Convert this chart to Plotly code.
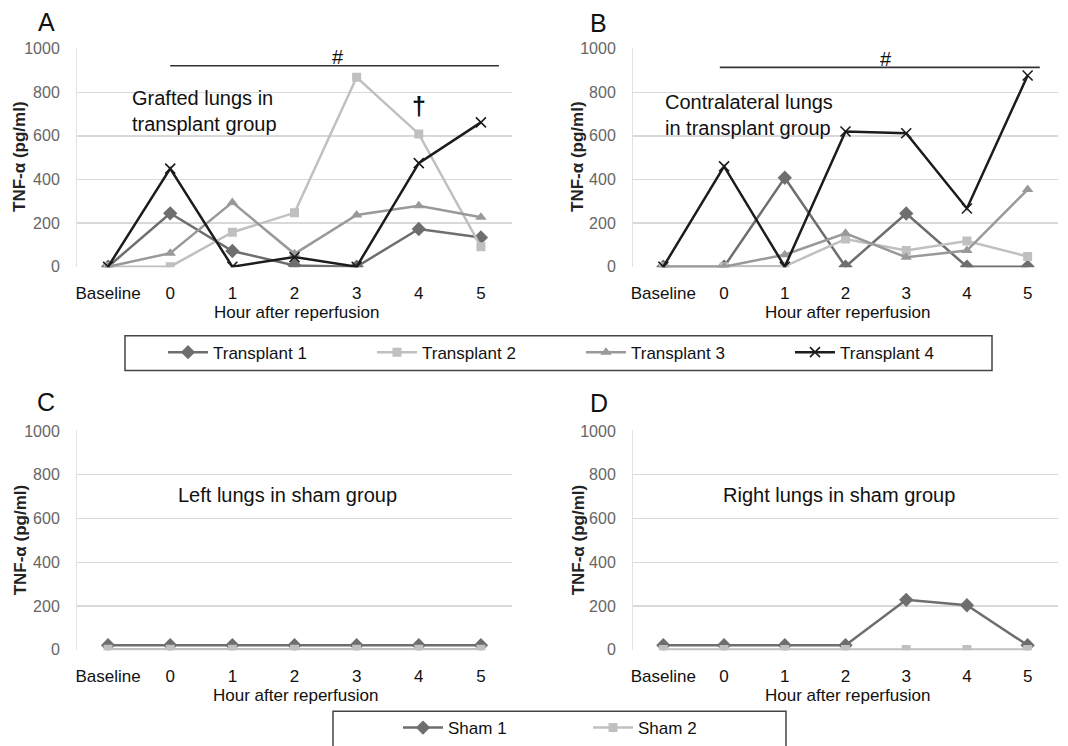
import plotly.graph_objects as go

# ---------------- data ----------------
categories = ["Baseline", "0", "1", "2", "3", "4", "5"]
y_ticks = [0, 200, 400, 600, 800, 1000]

# Panel A: grafted lungs in transplant group
a_transplant1 = [0, 245, 72, 6, 0, 173, 134]
a_transplant2 = [0, 0, 158, 247, 869, 609, 91]
a_transplant3 = [0, 62, 295, 59, 237, 280, 227]
a_transplant4 = [0, 450, 0, 44, 0, 475, 662]

# Panel B: contralateral lungs in transplant group
b_transplant1 = [0, 0, 408, 0, 244, 0, 0]
b_transplant2 = [0, 0, 2, 127, 74, 118, 47]
b_transplant3 = [0, 0, 55, 153, 43, 74, 354]
b_transplant4 = [0, 460, 0, 620, 612, 267, 877]

# Panel C: left lungs in sham group
c_sham1 = [20, 20, 20, 20, 20, 20, 20]
c_sham2 = [2, 2, 2, 2, 2, 2, 2]

# Panel D: right lungs in sham group
d_sham1 = [20, 20, 20, 20, 228, 203, 20]
d_sham2 = [0, 0, 0, 0, 0, 0, 0]

transplant_names = ["Transplant 1", "Transplant 2", "Transplant 3", "Transplant 4"]
sham_names = ["Sham 1", "Sham 2"]

# ---------------- layout helpers ----------------
W, H = 1068, 746
FONT = "Liberation Sans, Arial, sans-serif"


def px_x(a, b):
    return [a / W, b / W]


def px_y(top, bottom):
    return [1 - bottom / H, 1 - top / H]


YR = [-3, 1003]


def ydom(top1000, bottom0):
    per = (bottom0 - top1000) / 1000.0
    return px_y(top1000 - (YR[1] - 1000) * per, bottom0 - YR[0] * per)


styles = {
    "Transplant 1": dict(color="#6e6e6e", symbol="diamond", size=11),
    "Transplant 2": dict(color="#c0c0c0", symbol="square", size=9),
    "Transplant 3": dict(color="#999999", symbol="triangle-up", size=10),
    "Transplant 4": dict(color="#1c1c1c", symbol="x-thin", size=10),
    "Sham 1": dict(color="#6e6e6e", symbol="diamond", size=11),
    "Sham 2": dict(color="#c0c0c0", symbol="square", size=9),
}

fig = go.Figure()


def add(name, values, xa, ya, showlegend, legend):
    st = styles[name]
    marker = dict(symbol=st["symbol"], size=st["size"], color=st["color"])
    if st["symbol"].startswith("x"):
        marker["line"] = dict(color=st["color"], width=1.6)
    fig.add_trace(go.Scatter(
        x=categories, y=values, name=name, mode="lines+markers",
        line=dict(color=st["color"], width=2.5), marker=marker,
        xaxis=xa, yaxis=ya, showlegend=showlegend, legend=legend,
    ))


for n, v in zip(transplant_names, [a_transplant1, a_transplant2, a_transplant3, a_transplant4]):
    add(n, v, "x", "y", True, "legend")
for n, v in zip(transplant_names, [b_transplant1, b_transplant2, b_transplant3, b_transplant4]):
    add(n, v, "x2", "y2", False, "legend")
for n, v in zip(sham_names, [c_sham1, c_sham2]):
    add(n, v, "x3", "y3", True, "legend2")
for n, v in zip(sham_names, [d_sham1, d_sham2]):
    add(n, v, "x4", "y4", False, "legend2")

GRID = "#d9d9d9"

xaxis_common = dict(
    type="category", categoryorder="array", categoryarray=categories,
    range=[-0.5, 6.5], showgrid=False, zeroline=False, showline=False,
    ticks="", ticklabelstandoff=14,
    tickfont=dict(family=FONT, size=17, color="#111111"),
    automargin=False, fixedrange=True,
)
yaxis_common = dict(
    range=YR, tickvals=y_ticks, showgrid=True, gridcolor=GRID, gridwidth=1.3,
    zeroline=False, showline=True, linecolor="#e2e2e2", linewidth=1,
    ticks="", ticklabelstandoff=13,
    tickfont=dict(family=FONT, size=16, color="#666666"),
    automargin=False, fixedrange=True,
)

left_x = px_x(77, 512)
right_x = px_x(633, 1058)
top_y = ydom(49, 268.5)
bot_y = ydom(434, 654)

fig.update_layout(
    xaxis=dict(xaxis_common, domain=left_x, anchor="y"),
    yaxis=dict(yaxis_common, domain=top_y, anchor="x"),
    xaxis2=dict(xaxis_common, domain=right_x, anchor="y2"),
    yaxis2=dict(yaxis_common, domain=top_y, anchor="x2"),
    xaxis3=dict(xaxis_common, domain=left_x, anchor="y3"),
    yaxis3=dict(yaxis_common, domain=bot_y, anchor="x3"),
    xaxis4=dict(xaxis_common, domain=right_x, anchor="y4"),
    yaxis4=dict(yaxis_common, domain=bot_y, anchor="x4"),
)

annotations = []
# panel letters
for letter, (px, py) in zip("ABCD", [(46, 22), (598, 23), (46, 405), (599, 406)]):
    annotations.append(dict(text=letter, x=px / W, y=1 - py / H, xref="paper", yref="paper",
                            showarrow=False, xanchor="center", yanchor="middle",
                            font=dict(family=FONT, size=25, color="#111111")))
# y titles
for px, py in [(20, 158), (578, 158), (20, 544), (578, 544)]:
    annotations.append(dict(text="<b>TNF-α (pg/ml)</b>", x=px / W, y=1 - py / H, xref="paper",
                            yref="paper", showarrow=False, textangle=-90,
                            xanchor="center", yanchor="middle",
                            font=dict(family=FONT, size=17, color="#222222")))
# x titles
for px, py in [(296, 315), (847, 315), (295, 700), (847, 700)]:
    annotations.append(dict(text="Hour after reperfusion", x=px / W, y=1 - py / H, xref="paper",
                            yref="paper", showarrow=False, xanchor="center", yanchor="middle",
                            font=dict(family=FONT, size=17, color="#111111")))

# panel texts
annotations += [
    dict(text="Grafted lungs in<br>transplant group", x=0.35, y=712, xref="x", yref="y",
         showarrow=False, xanchor="left", yanchor="middle", align="left",
         font=dict(family=FONT, size=20, color="#111111")),
    dict(text="Contralateral lungs<br>in transplant group", x=0.0, y=698, xref="x2", yref="y2",
         showarrow=False, xanchor="left", yanchor="middle", align="left",
         font=dict(family=FONT, size=20, color="#111111")),
    dict(text="Left lungs in sham group", x=2.88, y=709, xref="x3", yref="y3",
         showarrow=False, xanchor="center", yanchor="middle",
         font=dict(family=FONT, size=20, color="#111111")),
    dict(text="Right lungs in sham group", x=2.89, y=709, xref="x4", yref="y4",
         showarrow=False, xanchor="center", yanchor="middle",
         font=dict(family=FONT, size=20, color="#111111")),
    dict(text="#", x=3.7, y=962, xref="x", yref="y", showarrow=False,
         font=dict(family=FONT, size=20, color="#111111")),
    dict(text="#", x=3.67, y=954, xref="x2", yref="y2", showarrow=False,
         font=dict(family=FONT, size=20, color="#111111")),
    dict(text="<b>†</b>", x=5, y=735, xref="x", yref="y", showarrow=False,
         font=dict(family=FONT, size=25, color="#111111")),
]

shapes = [
    dict(type="line", xref="x", yref="y", x0=1, x1=6.29, y0=922, y1=922,
         line=dict(color="#333333", width=1.6)),
    dict(type="line", xref="x2", yref="y2", x0=0.93, x1=6.2, y0=914, y1=914,
         line=dict(color="#333333", width=1.6)),
    # legend boxes
    dict(type="rect", xref="paper", yref="paper", x0=125 / W, x1=992 / W,
         y0=1 - 373 / H, y1=1 - 338 / H, line=dict(color="#444444", width=1.5)),
    dict(type="rect", xref="paper", yref="paper", x0=333 / W, x1=786 / W,
         y0=1 - 760 / H, y1=1 - 716 / H, line=dict(color="#444444", width=1.5)),
]

fig.update_layout(
    width=W, height=H, autosize=False,
    margin=dict(l=0, r=0, t=0, b=0),
    paper_bgcolor="white", plot_bgcolor="white",
    annotations=annotations, shapes=shapes,
    legend=dict(orientation="h", x=163 / W, xanchor="left", y=1 - 355 / H, yanchor="middle",
                bgcolor="rgba(0,0,0,0)", borderwidth=0, itemwidth=40,
                entrywidth=154, entrywidthmode="pixels",
                font=dict(family=FONT, size=17, color="#111111")),
    legend2=dict(orientation="h", x=398 / W, xanchor="left", y=1 - 733 / H, yanchor="middle",
                 bgcolor="rgba(0,0,0,0)", borderwidth=0, itemwidth=40,
                 entrywidth=135, entrywidthmode="pixels",
                 font=dict(family=FONT, size=17, color="#111111")),
    hovermode=False,
)

fig.write_html(
    "out.html",
    config={"displayModeBar": False, "staticPlot": True},
    post_script="document.body.style.margin='0';document.body.style.overflow='hidden';",
)
